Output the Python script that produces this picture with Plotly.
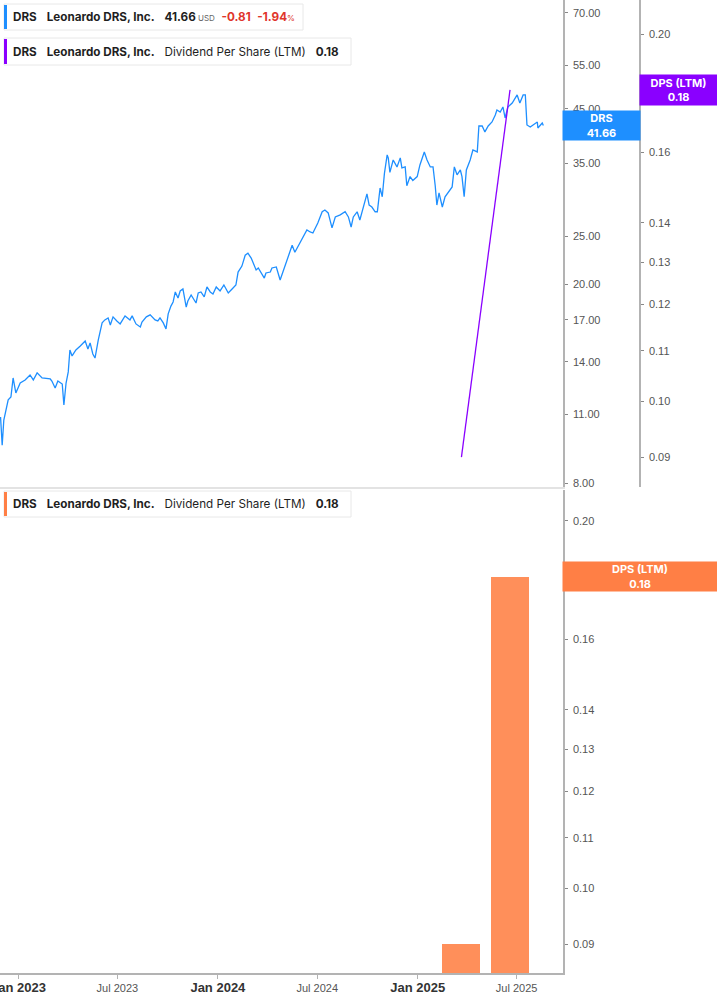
import math
import plotly.graph_objects as go

# ---------------- data ----------------
price_dates = [
    "2022-11-29", "2022-12-02", "2022-12-05", "2022-12-13", "2022-12-18", "2022-12-22", "2022-12-27",
    "2023-01-04", "2023-01-13", "2023-01-22", "2023-01-28", "2023-02-04", "2023-02-13", "2023-02-28",
    "2023-03-03", "2023-03-09", "2023-03-14", "2023-03-22", "2023-03-25", "2023-03-29", "2023-04-02",
    "2023-04-05", "2023-04-09", "2023-04-16", "2023-04-24", "2023-05-03", "2023-05-08", "2023-05-12",
    "2023-05-17", "2023-05-21", "2023-05-27", "2023-06-03", "2023-06-08", "2023-06-14", "2023-06-18",
    "2023-06-23", "2023-06-30", "2023-07-06", "2023-07-15", "2023-07-24", "2023-07-28", "2023-08-04",
    "2023-08-12", "2023-08-15", "2023-08-23", "2023-08-30", "2023-09-08", "2023-09-13", "2023-09-17",
    "2023-09-23", "2023-09-28", "2023-10-02", "2023-10-07", "2023-10-11", "2023-10-15", "2023-10-20",
    "2023-10-24", "2023-10-29", "2023-11-04", "2023-11-07", "2023-11-13", "2023-11-18", "2023-11-22",
    "2023-11-26", "2023-12-01", "2023-12-07", "2023-12-12", "2023-12-18", "2023-12-23", "2023-12-29",
    "2024-01-05", "2024-01-12", "2024-01-20", "2024-01-27", "2024-02-03", "2024-02-07", "2024-02-14",
    "2024-02-20", "2024-02-25", "2024-03-02", "2024-03-07", "2024-03-11", "2024-03-15", "2024-03-22",
    "2024-03-26", "2024-03-29", "2024-04-06", "2024-04-09", "2024-04-17", "2024-04-24", "2024-05-07",
    "2024-05-12", "2024-05-16", "2024-05-21", "2024-05-31", "2024-06-12", "2024-06-18", "2024-06-23",
    "2024-07-02", "2024-07-10", "2024-07-15", "2024-07-21", "2024-07-28", "2024-08-03", "2024-08-12",
    "2024-08-21", "2024-08-27", "2024-09-01", "2024-09-05", "2024-09-12", "2024-09-17", "2024-09-23",
    "2024-09-30", "2024-10-04", "2024-10-09", "2024-10-15", "2024-10-19", "2024-10-24", "2024-10-28",
    "2024-11-01", "2024-11-06", "2024-11-08", "2024-11-11", "2024-11-17", "2024-11-24", "2024-11-30",
    "2024-12-03", "2024-12-09", "2024-12-12", "2024-12-18", "2024-12-23", "2024-12-31", "2025-01-05",
    "2025-01-13", "2025-01-18", "2025-01-24", "2025-01-29", "2025-02-02", "2025-02-05", "2025-02-09",
    "2025-02-15", "2025-02-20", "2025-02-26", "2025-03-05", "2025-03-09", "2025-03-14", "2025-03-20",
    "2025-03-23", "2025-03-27", "2025-03-31", "2025-04-07", "2025-04-12", "2025-04-20", "2025-04-23",
    "2025-04-29", "2025-05-04", "2025-05-10", "2025-05-17", "2025-05-23", "2025-05-26", "2025-06-01",
    "2025-06-06", "2025-06-10", "2025-06-15", "2025-06-23", "2025-06-28", "2025-07-02", "2025-07-07",
    "2025-07-13", "2025-07-17", "2025-07-20", "2025-07-26", "2025-07-31", "2025-08-08", "2025-08-09",
    "2025-08-17", "2025-08-19",
]
price_values = [
    10.85, 9.53, 10.70, 11.74, 11.90, 12.99, 12.12,
    12.69, 12.87, 13.17, 12.87, 13.30, 12.99, 12.93,
    12.81, 12.40, 12.81, 12.63, 11.47, 12.69, 13.36,
    14.78, 14.38, 14.78, 15.05, 15.41, 14.85, 15.27,
    14.51, 14.24, 15.48, 16.75, 16.98, 17.14, 16.59,
    17.22, 16.90, 16.67, 17.30, 16.98, 17.30, 16.67,
    16.44, 16.82, 17.22, 17.38, 16.98, 16.90, 17.14,
    16.75, 16.29, 17.46, 18.10, 18.45, 19.32, 18.79,
    19.41, 19.59, 18.02, 18.53, 19.05, 18.70, 18.36,
    19.23, 19.32, 18.88, 19.77, 19.32, 19.14, 19.77,
    19.41, 19.95, 19.23, 19.59, 19.95, 21.18, 21.77,
    22.89, 23.10, 22.59, 21.87, 21.38, 21.58, 20.99,
    20.60, 21.09, 21.18, 21.58, 21.68, 20.42, 22.39,
    23.10, 23.96, 23.21, 24.30, 25.72, 25.48, 25.36,
    26.56, 27.97, 28.20, 27.82, 25.96, 27.31, 27.57,
    27.97, 27.31, 26.07, 27.31, 27.97, 26.93, 28.59,
    30.37, 28.85, 28.59, 27.97, 27.97, 31.22, 29.97,
    33.39, 36.36, 35.87, 33.55, 35.52, 34.40, 35.87,
    34.24, 34.40, 31.54, 32.90, 32.30, 32.90, 34.72,
    36.86, 35.52, 34.40, 34.40, 31.54, 28.85, 30.51,
    28.59, 29.97, 30.66, 31.37, 34.40, 33.17, 33.92,
    32.90, 29.97, 33.92, 35.52, 37.20, 36.86, 41.55,
    41.55, 40.43, 41.55, 42.33, 43.72, 44.74, 44.33,
    45.36, 43.12, 45.36, 46.21, 47.28, 47.96, 46.21,
    47.96, 47.96, 41.75, 41.36, 41.75, 42.33, 41.17,
    42.13, 41.66,
]
price_change = -0.81
price_change_pct = -1.94

dps_dates = ["2025-03-22", "2025-06-19"]
dps_values = [0.09, 0.18]

price_ticks = [8, 11, 14, 17, 20, 25, 35, 45, 55, 70]
dps_ticks = [0.09, 0.10, 0.11, 0.12, 0.13, 0.14, 0.16, 0.18, 0.20]
x_tick_dates = ["2023-01-01", "2023-07-01", "2024-01-01", "2024-07-01", "2025-01-01", "2025-07-01"]
x_tick_labels = ["Jan 2023", "Jul 2023", "Jan 2024", "Jul 2024", "Jan 2025", "Jul 2025"]

ticker = "DRS"
company = "Leonardo DRS, Inc."
metric = "Dividend Per Share (LTM)"
metric_short = "DPS (LTM)"

# ---------------- styling ----------------
W, H = 717, 1005
PLOT_H = 973.0
BLUE = "#1E8FFF"
PURPLE = "#8A00FF"
ORANGE_BAR = "#FF8F5A"
ORANGE_BOX = "#FF7F45"
AXIS_LINE = "#b3b3b3"
TICK_FONT = dict(family="Liberation Sans, Arial", size=11, color="#555555")
TXT_FONT = "Inter, Noto Sans, sans-serif"


def px(xp):
    return xp / W


def py(yp):
    return 1 - yp / PLOT_H


last_price = price_values[-1]
last_dps = dps_values[-1]

fig = go.Figure()
fig.add_trace(go.Scatter(x=price_dates, y=price_values, mode="lines",
                         line=dict(color=BLUE, width=1.3), xaxis="x", yaxis="y",
                         hoverinfo="skip", showlegend=False))
fig.add_trace(go.Scatter(x=dps_dates, y=dps_values, mode="lines",
                         line=dict(color=PURPLE, width=1.3), xaxis="x", yaxis="y2",
                         hoverinfo="skip", showlegend=False))
fig.add_trace(go.Bar(x=dps_dates, y=dps_values, marker=dict(color=ORANGE_BAR, line=dict(width=0)),
                     width=[69.6 * 86400000] * len(dps_dates), xaxis="x2", yaxis="y3",
                     hoverinfo="skip", showlegend=False))

x_range = ["2022-11-28", "2025-09-24"]
xdom = [0, px(563)]
top_dom = [py(487), 1]
bot_dom = [0, py(490)]

ticktext_x = []
for lbl in x_tick_labels:
    if lbl.startswith("Jan"):
        ticktext_x.append("<span style='font-size:13px;color:#333333'><b>%s</b></span>" % lbl)
    else:
        ticktext_x.append("<span style='font-size:11px;color:#555555'>%s</span>" % lbl)

fig.update_layout(
    width=W, height=H,
    margin=dict(l=0, r=0, t=0, b=32, autoexpand=False),
    paper_bgcolor="white", plot_bgcolor="white",
    showlegend=False,
    bargap=0,
    xaxis=dict(domain=xdom, anchor="y", type="date", range=x_range, automargin=False,
               showticklabels=False, ticks="", showgrid=False, zeroline=False,
               showline=True, linecolor="#e3e3e3", linewidth=1.5),
    xaxis2=dict(domain=xdom, anchor="y3", type="date", range=x_range, matches="x", automargin=False,
                tickmode="array", tickvals=x_tick_dates, ticktext=ticktext_x,
                ticks="outside", ticklen=4, tickcolor=AXIS_LINE, showgrid=False, zeroline=False,
                showline=True, linecolor=AXIS_LINE, linewidth=1.5,
                tickfont=dict(family="Liberation Sans, Arial", size=11, color="#555555"),
                ticklabeloverflow="allow"),
    yaxis=dict(domain=top_dom, anchor="x", side="right", type="log", automargin=False,
               range=[0.8951, 1.8711], tickmode="array", tickvals=price_ticks,
               ticktext=["%.2f" % v for v in price_ticks], ticks="outside", ticklen=3,
               tickcolor="#888888", tickfont=TICK_FONT, showgrid=False, zeroline=False,
               showline=True, linecolor=AXIS_LINE, linewidth=1.5, ticklabelstandoff=3),
    yaxis2=dict(overlaying="y", anchor="free", position=px(640), side="right", type="log",
                automargin=False,
                range=[-1.0703, -0.6711], tickmode="array", tickvals=dps_ticks,
                ticktext=["%.2f" % v for v in dps_ticks], ticks="outside", ticklen=3,
                tickcolor="#888888", tickfont=TICK_FONT, showgrid=False, zeroline=False,
                showline=True, linecolor=AXIS_LINE, linewidth=1.5, ticklabelstandoff=3),
    yaxis3=dict(domain=bot_dom, anchor="x2", side="right", type="log", automargin=False,
                range=[-1.0695, -0.6736], tickmode="array", tickvals=dps_ticks,
                ticktext=["%.2f" % v for v in dps_ticks], ticks="outside", ticklen=3,
                tickcolor="#888888", tickfont=TICK_FONT, showgrid=False, zeroline=False,
                showline=True, linecolor=AXIS_LINE, linewidth=1.5, ticklabelstandoff=3),
)

shapes = []
annotations = []

# value labels on the axes
annotations.append(dict(xref="paper", yref="y", x=px(601.5), y=math.log10(last_price),
                        text="<b>%s</b><br><b>%.2f</b>" % (ticker, last_price),
                        showarrow=False, xanchor="center", yanchor="middle",
                        width=77, height=29, borderpad=0, bgcolor=BLUE,
                        font=dict(family=TXT_FONT, size=11, color="white")))
annotations.append(dict(xref="paper", yref="y2", x=px(678.5), y=math.log10(last_dps),
                        text="<b>%s</b><br><b>%.2f</b>" % (metric_short, last_dps),
                        showarrow=False, xanchor="center", yanchor="middle",
                        width=77, height=30, borderpad=0, bgcolor=PURPLE,
                        font=dict(family=TXT_FONT, size=11, color="white")))
annotations.append(dict(xref="paper", yref="y3", x=px(640), y=math.log10(last_dps),
                        text="<b>%s</b><br><b>%.2f</b>" % (metric_short, last_dps),
                        showarrow=False, xanchor="center", yanchor="middle",
                        width=154, height=29, borderpad=0, bgcolor=ORANGE_BOX,
                        font=dict(family=TXT_FONT, size=11, color="white")))

NB = "\u00a0"


def legend_box(x0, x1, y0, y1, color, text):
    shapes.append(dict(type="rect", xref="paper", yref="paper", x0=px(x0), x1=px(x1),
                       y0=py(y1), y1=py(y0), line=dict(color="#e8e8e8", width=1),
                       fillcolor="white", layer="above"))
    shapes.append(dict(type="rect", xref="paper", yref="paper", x0=px(x0), x1=px(x0 + 3),
                       y0=py(y1 - 1), y1=py(y0 + 1), line=dict(width=0),
                       fillcolor=color, layer="above"))
    annotations.append(dict(xref="paper", yref="paper", x=px(x0 + 7), y=py((y0 + y1) / 2.0),
                            text=text, showarrow=False, xanchor="left", yanchor="middle",
                            font=dict(family=TXT_FONT, size=11.7, color="#1f1f1f")))


gap = NB * 3
t1 = ("<b>%s</b>%s<b>%s</b>%s<b>%.2f</b><span style='font-size:8px;color:#666666'>%sUSD</span>%s"
      "<span style='color:#e0352b'><b>%.2f</b>%s<b>%.2f</b><span style='font-size:8px'>%%</span></span>"
      % (ticker, gap, company, gap, last_price, NB, NB * 2, price_change, NB * 2, price_change_pct))
t2 = ("<b>%s</b>%s<b>%s</b>%s%s%s<b>%.2f</b>" % (ticker, gap, company, gap, metric, gap, last_dps))

legend_box(4, 303, 4, 30, BLUE, t1)
legend_box(4, 351, 38, 65, PURPLE, t2)
legend_box(4, 351, 491, 517, ORANGE_BOX, t2)

fig.update_layout(shapes=shapes, annotations=annotations)
fig.write_html("out.html", config={"displayModeBar": False},
               post_script="document.body.style.margin='0';document.body.style.overflow='hidden';")
